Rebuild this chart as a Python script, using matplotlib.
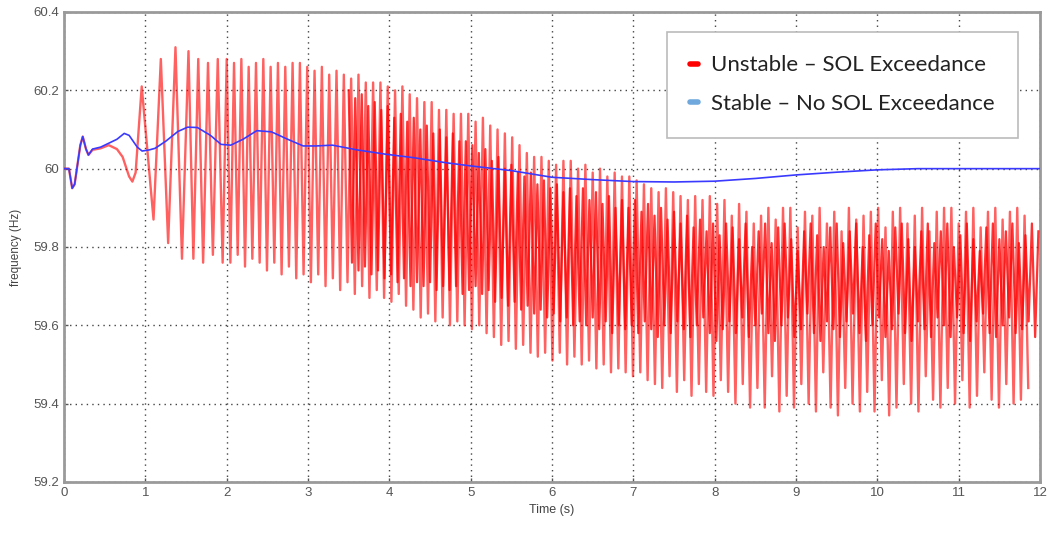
import numpy as np
import matplotlib
matplotlib.use("Agg")
import matplotlib.pyplot as plt
from matplotlib.lines import Line2D

# stable case (blue)
blue_t = [0, 0.06, 0.1, 0.13, 0.2, 0.23, 0.27, 0.3, 0.35, 0.45, 0.55, 0.65, 0.74, 0.8, 0.9, 0.96,
          1.05, 1.12, 1.25, 1.4, 1.52, 1.64, 1.8, 1.93, 2.05, 2.2, 2.37, 2.55, 2.75, 2.94, 3.1, 3.3,
          3.6, 3.95, 4.3, 4.7, 5.0, 5.5, 6.0, 6.5, 7.0, 7.5, 8.0, 8.5, 9.0, 9.5, 10.0, 10.5, 12.0]
blue_v = [60.0, 60.0, 59.95, 59.96, 60.06, 60.082, 60.05, 60.035, 60.05, 60.055, 60.065, 60.075,
          60.09, 60.085, 60.055, 60.045, 60.048, 60.052, 60.07, 60.095, 60.106, 60.105, 60.085,
          60.062, 60.06, 60.075, 60.097, 60.094, 60.075, 60.058, 60.058, 60.06, 60.048, 60.037,
          60.028, 60.015, 60.007, 59.995, 59.978, 59.972, 59.967, 59.966, 59.968, 59.975, 59.984,
          59.991, 59.997, 60.0, 60.0]

# unstable case (red) - start of the run, point by point
red_head_t = [0, 0.06, 0.1, 0.13, 0.2, 0.23, 0.27, 0.3, 0.35, 0.45, 0.55, 0.65, 0.72, 0.8, 0.84,
              0.88, 0.955, 1.10, 1.19, 1.28, 1.37, 1.45, 1.53, 1.59, 1.65, 1.71, 1.77, 1.83, 1.89, 1.95]
red_head_v = [60.0, 60.0, 59.95, 59.96, 60.06, 60.082, 60.05, 60.035, 60.048, 60.052, 60.06, 60.05,
              60.03, 59.98, 59.967, 59.99, 60.21, 59.87, 60.28, 59.81, 60.31, 59.77, 60.30, 59.77,
              60.28, 59.76, 60.27, 59.78, 60.28, 59.76]

# swing peaks / troughs, one per cycle (about 11 per second) from t = 2 s
red_start = 2.0
red_half = 0.045
red_peaks = [
    60.28, 60.27, 60.28, 60.26, 60.27, 60.28, 60.26, 60.27, 60.26, 60.27, 60.27,
    60.26, 60.25, 60.26, 60.24, 60.25, 60.24, 60.23, 60.24, 60.22, 60.22, 60.22,
    60.21, 60.20, 60.21, 60.19, 60.18, 60.17, 60.17, 60.15, 60.15, 60.14, 60.14,
    60.14, 60.12, 60.13, 60.11, 60.10, 60.09, 60.08, 60.06, 60.04, 60.03, 60.03,
    60.02, 60.01, 60.02, 60.02, 60.00, 60.01, 59.99, 60.00, 59.98, 59.99, 59.98,
    59.98, 59.97, 59.96, 59.95, 59.94, 59.95, 59.94, 59.93, 59.92, 59.93, 59.92,
    59.93, 59.91, 59.92, 59.88, 59.91, 59.89, 59.86, 59.88, 59.90, 59.87, 59.90,
    59.90, 59.85, 59.89, 59.88, 59.90, 59.86, 59.89, 59.84, 59.90, 59.87, 59.88,
    59.89, 59.90, 59.85, 59.89, 59.90, 59.86, 59.88, 59.90, 59.84, 59.89, 59.90,
    59.90, 59.86, 59.89, 59.90, 59.85, 59.89, 59.90, 59.87, 59.89, 59.90, 59.88]
red_troughs = [
    59.76, 59.78, 59.75, 59.77, 59.76, 59.74, 59.76, 59.73, 59.75, 59.72, 59.73,
    59.71, 59.73, 59.70, 59.72, 59.69, 59.71, 59.68, 59.70, 59.67, 59.69, 59.67,
    59.66, 59.68, 59.65, 59.64, 59.62, 59.63, 59.61, 59.62, 59.60, 59.61, 59.60,
    59.59, 59.60, 59.58, 59.57, 59.55, 59.56, 59.54, 59.55, 59.53, 59.52, 59.53,
    59.51, 59.53, 59.50, 59.52, 59.50, 59.51, 59.49, 59.50, 59.48, 59.49, 59.48,
    59.47, 59.48, 59.46, 59.45, 59.44, 59.47, 59.43, 59.46, 59.42, 59.45, 59.43,
    59.42, 59.46, 59.43, 59.40, 59.45, 59.39, 59.44, 59.39, 59.47, 59.38, 59.42,
    59.39, 59.45, 59.40, 59.38, 59.48, 59.39, 59.37, 59.44, 59.40, 59.38, 59.43,
    59.38, 59.46, 59.37, 59.39, 59.45, 59.40, 59.38, 59.47, 59.41, 59.39, 59.44,
    59.40, 59.46, 59.39, 59.42, 59.48, 59.41, 59.39, 59.45, 59.40, 59.41, 59.44]

# second unstable trace (dense core), 12.5 cycles per second from t = 3.5 s
core_start = 3.5
core_half = 0.04
core_peaks = [
    60.20, 60.18, 60.19, 60.16, 60.17, 60.15, 60.16, 60.13, 60.14, 60.12,
    60.13, 60.10, 60.11, 60.09, 60.10, 60.08, 60.09, 60.07, 60.07,
    60.06, 60.04, 60.05, 60.02, 60.03, 60.00, 60.01, 59.99,
    59.98, 59.99, 59.96, 59.97, 59.95, 59.96, 59.94, 59.95,
    59.93, 59.95, 59.92, 59.94, 59.91, 59.93, 59.90, 59.92,
    59.90, 59.92, 59.89, 59.91, 59.88, 59.90, 59.87, 59.89,
    59.86, 59.88, 59.85, 59.87, 59.84, 59.86, 59.83, 59.86,
    59.85, 59.82, 59.86, 59.80, 59.84, 59.86, 59.81, 59.85,
    59.86, 59.82, 59.79, 59.84, 59.86, 59.83, 59.80, 59.85,
    59.86, 59.81, 59.84, 59.86, 59.80, 59.83, 59.86, 59.82,
    59.79, 59.85, 59.86, 59.82, 59.80, 59.84, 59.86, 59.81,
    59.84, 59.86, 59.80, 59.83, 59.86, 59.82, 59.79, 59.85,
    59.86, 59.82, 59.84, 59.86, 59.81, 59.83, 59.86, 59.84]
core_troughs = [
    59.76, 59.74, 59.75, 59.73, 59.74, 59.72, 59.73, 59.71, 59.72, 59.70,
    59.71, 59.70, 59.71, 59.69, 59.70, 59.69, 59.70, 59.68, 59.69,
    59.70, 59.68, 59.69, 59.66, 59.67, 59.65, 59.66, 59.64,
    59.65, 59.63, 59.64, 59.62, 59.63, 59.61, 59.62, 59.60,
    59.61, 59.60, 59.62, 59.59, 59.61, 59.58, 59.60, 59.59,
    59.60, 59.58, 59.61, 59.59, 59.57, 59.60, 59.58, 59.61,
    59.59, 59.57, 59.60, 59.62, 59.58, 59.56, 59.59, 59.61,
    59.58, 59.62, 59.57, 59.60, 59.63, 59.58, 59.56, 59.60,
    59.62, 59.57, 59.59, 59.63, 59.58, 59.56, 59.61, 59.59,
    59.57, 59.61, 59.63, 59.58, 59.56, 59.60, 59.62, 59.57,
    59.59, 59.63, 59.58, 59.56, 59.61, 59.59, 59.57, 59.62,
    59.60, 59.57, 59.62, 59.58, 59.56, 59.61, 59.63, 59.58,
    59.57, 59.60, 59.62, 59.58, 59.59, 59.61, 59.57, 59.60]

x_ticks = list(range(0, 13))
y_ticks = [59.2, 59.4, 59.6, 59.8, 60.0, 60.2, 60.4]
y_tick_labels = ["59.2", "59.4", "59.6", "59.8", "60", "60.2", "60.4"]


def swing(start, half, peaks, troughs):
    n = min(len(peaks), len(troughs))
    vals = np.empty(2 * n)
    vals[0::2] = peaks[:n]
    vals[1::2] = troughs[:n]
    t = start + half * np.arange(2 * n)
    keep = t <= 12.0
    return t[keep], vals[keep]


red_t2, red_v2 = swing(red_start, red_half, red_peaks, red_troughs)
red_t = np.concatenate([red_head_t, red_t2])
red_v = np.concatenate([red_head_v, red_v2])
core_t, core_v = swing(core_start, core_half, core_peaks, core_troughs)

plt.rcParams['font.family'] = ['Liberation Sans', 'DejaVu Sans']

fig = plt.figure(figsize=(10.5, 5.33), dpi=100)
ax = fig.add_axes([0.061, 0.0957, 0.9295, 0.8818])

ax.plot(red_t, red_v, color='#ff0000', lw=1.7, alpha=0.62, zorder=3)
ax.plot(core_t, core_v, color='#ff0000', lw=1.6, alpha=0.8, zorder=3)
ax.plot(blue_t, blue_v, color='#3a3aff', lw=1.2, zorder=4)

ax.set_xlim(0, 12)
ax.set_ylim(59.2, 60.4)
ax.set_xticks(x_ticks)
ax.set_yticks(y_ticks)
ax.set_yticklabels(y_tick_labels)
ax.tick_params(direction='in', length=3, colors='#555555', labelsize=9.5, width=1)
ax.grid(True, linestyle=(0, (1, 3)), color='#444444', lw=1.0)
for s in ax.spines.values():
    s.set_color('#9a9a9a')
    s.set_linewidth(2)

ax.set_xlabel("Time (s)", fontsize=9, color='#444444', labelpad=4)
ax.set_ylabel("frequency (Hz)", fontsize=8.5, color='#444444', labelpad=8)

handles = [Line2D([], [], color='#ff0000', lw=4, solid_capstyle='round'),
           Line2D([], [], color='#6fa8dc', lw=4, solid_capstyle='round')]
leg = ax.legend(handles, ["Unstable – SOL Exceedance", "Stable – No SOL Exceedance"],
                loc='upper right', bbox_to_anchor=(0.9775, 0.9574), borderaxespad=0,
                fancybox=False, prop={'family': 'Lato', 'size': 16}, handlelength=0.35,
                handletextpad=0.6, labelspacing=0.85, borderpad=1.05, framealpha=1,
                edgecolor='#bbbbbb')
leg.get_frame().set_linewidth(1.2)
for t in leg.get_texts():
    t.set_color('#222222')

fig.savefig("out.png", dpi=100)
